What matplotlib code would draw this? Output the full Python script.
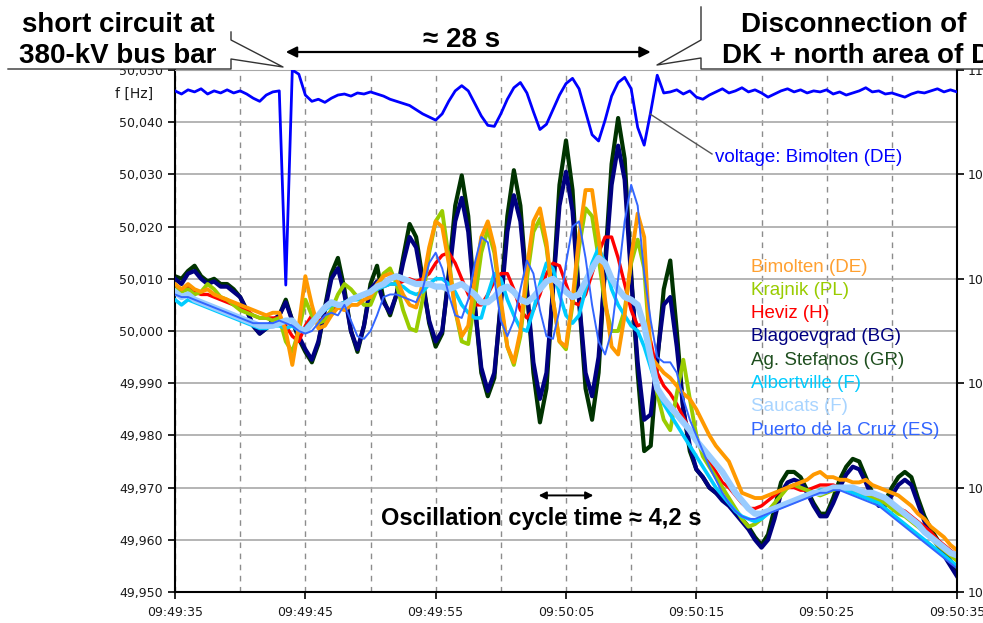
import matplotlib
matplotlib.use('Agg')
import matplotlib.pyplot as plt
import numpy as np
from matplotlib.patches import Rectangle
from matplotlib.ticker import FuncFormatter

# seconds after 09:49:35, one sample every 0.5 s
t = np.arange(0, 60.5, 0.5)

time_ticks = [0, 10, 20, 30, 40, 50, 60]
time_labels = ['09:49:35', '09:49:45', '09:49:55', '09:50:05',
               '09:50:15', '09:50:25', '09:50:35']

# frequency deviation from 50 Hz in mHz
blagoevgrad = [
    10, 9, 11, 11.5, 10, 9, 9.5, 8.5, 8.5, 7.5,
    6.5, 4, 1, -0.5, 0.5, 2, 3, 5.5, 2, -1,
    -3.5, -5.5, -2, 4, 10, 12, 7, 0, -3.5, 1,
    8, 9.5, 5.5, 3.5, 7, 13, 18, 16, 9, 2,
    -2, 0, 10, 21, 25.5, 19, 5, -7, -11.5, -8,
    5, 19, 26, 21, 8, -6, -13, -8, 8, 24,
    30.5, 23, 6, -8, -12.5, -5, 12, 28, 35.5, 29,
    10, -6, -17, -16, -5, 5, 6.5, -3, -15, -22,
    -26.5, -28, -30, -31, -32.5, -33.5, -35, -36.5, -38, -40,
    -41.5, -40, -36, -31, -29, -28.5, -29, -31, -33.5, -35.5,
    -35.5, -33, -30, -27.5, -26, -26.5, -29, -32, -33.5, -33.5,
    -31.5, -29.5, -28.5, -29.5, -33, -36.5, -39, -41, -43, -45,
    -47]
stefanos = [
    10.5, 10, 11.5, 12.5, 10.5, 9.5, 10, 9, 9, 8,
    6.5, 4, 1, -0.5, 0.5, 2, 3, 6, 2, -1.5,
    -4, -6, -2.5, 4.5, 11, 14, 8, 0, -4, 1,
    9, 12.5, 6, 3, 7, 14, 20.5, 18, 10, 1.5,
    -3, -0.5, 11, 24, 29.8, 22, 5, -8, -12.5, -9,
    6, 22, 30.8, 24, 8, -8, -17.5, -11, 8, 28,
    36.5, 27, 6, -11, -17, -8, 13, 32, 40.8, 33,
    11, -8, -23, -22, -6, 8, 13.5, 0, -15, -23,
    -26.5, -28, -30, -31, -32, -33, -34.5, -36, -37.5, -39.5,
    -41, -39, -34, -29, -27, -27, -28, -30.5, -33, -35,
    -35, -32, -28.5, -26, -24.5, -25, -28, -31, -33, -32.5,
    -30, -28, -27, -28, -32, -35.5, -38, -40, -42, -44,
    -46]
bimolten = [
    9, 8, 9, 8, 7.5, 8, 7, 6.5, 6, 5.5,
    5, 4.5, 4, 3.5, 3, 3.5, 3.5, 0, -6.5, 1,
    10.5, 5, 0.5, 1, 3, 4.5, 4, 5, 5, 6,
    6.5, 9, 10.5, 11, 10, 7, 5, 4.5, 9, 16,
    21, 20, 13, 4, -1, 1, 10, 18, 21, 16,
    6, -3, -6, 0, 12, 21, 23.5, 17, 6, -2,
    -3, 6, 18, 27, 27, 18, 6, -3, -4.5, 3,
    14, 22.5, 18, -5, -6.5, -8, -9, -10.5, -12, -13,
    -15, -17.5, -20, -22, -23.5, -25, -28, -31, -31.5, -32,
    -32, -31.5, -31, -30.5, -30, -29.5, -29, -28.5, -27.5, -27,
    -28, -28, -28.5, -28.5, -29, -29, -28.5, -29.5, -30, -30.5,
    -31, -31.5, -32.5, -33.5, -35, -36, -37.5, -38.5, -39.5, -41,
    -42]
krajnik = [
    8, 7.5, 8, 7, 7.5, 9, 8, 6.5, 6, 5,
    4, 3.5, 3, 2.5, 2.5, 2, 2.5, -2, -4, 0,
    6, 3, 1.5, 2, 4, 7, 9, 8, 6.5, 5,
    5, 8, 11, 12, 9, 4, 0.5, 0, 6, 15,
    21, 23, 14, 4, -2, -2.5, 6, 15, 19.5, 15,
    5, -3, -6.5, -1, 10, 19, 21.5, 16, 6, -2,
    -3.5, 5, 16, 23.5, 22, 14, 5, 0, 0, 4,
    13, 17.5, 12, -5, -12, -17, -19, -12, -5.5, -13,
    -20, -24, -26, -28, -30, -32, -34, -36, -37.5, -37,
    -36, -34.5, -33, -31.5, -30, -29.5, -30, -30.5, -31, -31.5,
    -31, -30.5, -30, -30, -30.5, -31, -31.5, -32, -32.5, -33,
    -34, -35, -35.5, -36.5, -37.5, -38.5, -39.5, -41, -42, -43,
    -44]
heviz = [
    8, 8, 8.5, 7.5, 7, 7, 6.5, 6, 5.5, 5,
    4.5, 4, 3, 2.5, 2.5, 2.5, 2.5, 1, -1, -2,
    1, 3, 2, 2.5, 4, 5, 5.5, 6, 6.5, 7,
    7.5, 8, 8.5, 9, 9, 9.5, 10, 9.5, 10, 11,
    13, 14.5, 15, 13, 10, 7, 5, 5, 7, 9.5,
    11, 11, 8, 4, 2.5, 4, 7, 11, 13, 12.5,
    9, 5.5, 5, 7, 11, 15, 18, 18, 14, 9,
    4, 1, 1.5, -2, -8, -10.5, -12, -14, -16.5, -19,
    -21, -23, -25, -27, -29, -30, -31.5, -33, -34, -34,
    -33.5, -32.5, -31.5, -30.5, -30, -30, -30.5, -30.5, -30, -29.5,
    -29.5, -29.5, -30, -30, -30.5, -30.5, -31, -31.5, -32, -32.5,
    -33, -34, -34.5, -35.5, -36.5, -37.5, -38.5, -40, -41, -42,
    -43]
albertville = [
    6, 5, 6, 5.5, 5, 4.5, 4, 3.5, 3, 2.5,
    2, 1.5, 1, 0.5, 0.5, 1, 1, 0.5, 1, 0,
    0.5, 2, 3, 4, 5, 5, 5.5, 6, 6, 7,
    7.5, 8, 8.5, 9, 9, 8.5, 7.5, 7, 7.5, 9,
    10, 10, 9, 7.5, 5, 3.5, 2.5, 2.5, 7, 11,
    10, 6, 3, 0.5, 0, 4, 9, 13, 12, 7,
    3, 1.5, 3, 8, 13, 16, 13, 8, 5, 3,
    1, 0, -3, -7, -11, -14, -16, -18, -20, -22,
    -24, -26, -28, -30, -31.5, -33, -34.5, -35.5, -36, -36.5,
    -36, -35, -34, -33.5, -33, -32.5, -32, -31.5, -31, -30.5,
    -30.5, -30, -30, -30.5, -31, -31.5, -32, -32.5, -33, -34,
    -35, -36, -37, -38, -39, -40, -41, -42, -43, -44,
    -45]
saucats = [
    7.5, 6.5, 7, 6, 5.5, 5, 4.5, 4, 3.5, 3,
    2.5, 2, 1.5, 1, 1, 1, 1.5, 2, 2, 0.5,
    0, 1.5, 3, 4.5, 5.5, 5, 5, 6, 6.5, 7,
    7.5, 8.5, 9, 10, 10.5, 10, 9.5, 9, 9, 9,
    8.5, 8.5, 8, 8.5, 9, 8, 7, 5.5, 5.5, 6.5,
    8, 8.5, 7.5, 6, 5.5, 6.5, 8, 9.5, 10, 9,
    7.5, 6.5, 7, 9.5, 12, 14, 13, 10, 8, 6.5,
    6, 5, 1, -5, -11, -13, -14.5, -16, -17.5, -19,
    -21, -22.5, -24, -25.5, -27, -29, -31, -32.5, -34, -35,
    -35, -34.5, -34, -33.5, -33, -32.5, -32, -31.5, -31, -31,
    -30.5, -30, -30, -30, -30, -30.5, -31, -31, -31.5, -32,
    -33, -34, -35, -36, -37, -38.5, -39.5, -40.5, -41.5, -42.5,
    -43]
puerto = [
    7, 6.5, 6.5, 6, 5.5, 5, 4.5, 4, 3.5, 3,
    2.5, 2, 1.5, 1.5, 1.5, 1.5, 2, 1.5, 1, 0,
    -0.5, 0, 1.5, 3, 3.5, 3, 5, 2, -1, -1.5,
    0, 3, 6.5, 7, 7, 6.5, 6, 5.5, 8, 13,
    15, 12, 7, 3, 2.5, 6, 13, 18, 17, 10,
    2, -1, 2, 8, 13.5, 11, 4, -1, -1.5, 4,
    13, 20, 21, 14, 5, -2, -4.5, 0, 10, 21,
    28, 24, 11, 2, -5, -6, -6, -8, -13, -17,
    -20, -23, -26, -28.5, -31, -33, -34.5, -35.5, -36, -36,
    -35.5, -35, -34.5, -34, -33.5, -33, -32.5, -32, -31.5, -31,
    -31, -30.5, -30.5, -31, -31.5, -32, -32.5, -33, -33.5, -34.5,
    -35.5, -36.5, -37.5, -38.5, -39.5, -40.5, -41.5, -42.5, -43.5, -44.5,
    -45.5]

# voltage at Bimolten, right-hand scale
voltage = [
    109.80, 109.77, 109.81, 109.79, 109.82, 109.77, 109.80, 109.78, 109.81, 109.78,
    109.80, 109.77, 109.73, 109.70, 109.76, 109.79, 109.80, 107.94, 110.00, 109.96,
    109.76, 109.70, 109.72, 109.69, 109.73, 109.76, 109.77, 109.75, 109.78, 109.77,
    109.79, 109.77, 109.75, 109.72, 109.70, 109.68, 109.66, 109.62, 109.58, 109.55,
    109.52, 109.58, 109.70, 109.80, 109.85, 109.80, 109.68, 109.56, 109.47, 109.46,
    109.58, 109.72, 109.83, 109.88, 109.78, 109.60, 109.43, 109.48, 109.62, 109.76,
    109.87, 109.92, 109.82, 109.60, 109.38, 109.32, 109.52, 109.75, 109.88, 109.93,
    109.82, 109.45, 109.28, 109.60, 109.95, 109.78, 109.79, 109.81, 109.77, 109.80,
    109.74, 109.72, 109.76, 109.79, 109.82, 109.78, 109.80, 109.83, 109.79, 109.81,
    109.78, 109.74, 109.77, 109.80, 109.82, 109.79, 109.81, 109.78, 109.80, 109.79,
    109.81, 109.77, 109.79, 109.76, 109.78, 109.80, 109.83, 109.79, 109.80, 109.77,
    109.78, 109.76, 109.74, 109.77, 109.79, 109.78, 109.80, 109.82, 109.79, 109.81,
    109.79]
voltage_ticks = [105, 106, 107, 108, 109, 110]

t_short = 8.5      # short circuit
t_disc = 36.5      # disconnection
cycle = 4.2        # oscillation period

# (label, data, colour, line width, zorder), back to front
series = [
    ('Ag. Stefanos (GR)', stefanos, '#003300', 3.0, 2),
    ('Blagoevgrad (BG)', blagoevgrad, '#000080', 3.0, 3),
    ('Heviz (H)', heviz, '#ff0000', 2.4, 4),
    ('Krajnik (PL)', krajnik, '#99cc00', 2.8, 5),
    ('Albertville (F)', albertville, '#00ccff', 2.6, 6),
    ('Bimolten (DE)', bimolten, '#ff9900', 2.8, 7),
    ('Saucats (F)', saucats, '#99ccff', 4.5, 8),
    ('Puerto de la Cruz (ES)', puerto, '#3366ff', 1.4, 9),
]
legend_order = ['Bimolten (DE)', 'Krajnik (PL)', 'Heviz (H)', 'Blagoevgrad (BG)',
                'Ag. Stefanos (GR)', 'Albertville (F)', 'Saucats (F)',
                'Puerto de la Cruz (ES)']
legend_colors = {'Ag. Stefanos (GR)': '#1f4f1f', 'Bimolten (DE)': '#ffa030',
                 'Saucats (F)': '#a8d4ff'}

W, H = 983, 623
plt.rcParams['font.family'] = ['DejaVu Sans']
sans = ['Liberation Sans', 'DejaVu Sans']

fig = plt.figure(figsize=(W / 100, H / 100), dpi=100)
ax = fig.add_axes([175 / W, 1 - 592 / H, 782 / W, 522 / H])

for name, dev, color, lw, z in series:
    ax.plot(t, 50 + np.array(dev) / 1000, color=color, lw=lw, zorder=z)

ax.set_xlim(0, 60)
ax.set_ylim(49.95, 50.05)
ax.set_yticks(np.round(np.arange(49.95, 50.0501, 0.01), 3))
ax.yaxis.set_major_formatter(FuncFormatter(lambda v, p: f'{v:.3f}'.replace('.', ',')))
ax.set_xticks(time_ticks)
ax.set_xticklabels(time_labels)
ax.set_xticks(range(5, 60, 10), minor=True)
ax.grid(axis='y', color='#a8a8a8', lw=1.2, ls='-', zorder=0)
ax.grid(axis='x', which='both', color='#8c8c8c', lw=1, ls=(0, (4, 4)), zorder=0)
ax.set_axisbelow(True)
ax.tick_params(axis='x', which='minor', length=0)
ax.tick_params(axis='y', which='major', direction='out', length=5, width=1.2,
               labelsize=9, labelcolor='#1a1a1a', pad=4)
ax.tick_params(axis='x', which='major', direction='out', length=5, width=1.2,
               labelsize=9, labelcolor='#1a1a1a', pad=5)
for s in ('left', 'bottom'):
    ax.spines[s].set_linewidth(1.5)
ax.spines['top'].set_color('#a8a8a8')
ax.spines['right'].set_visible(False)

ax2 = ax.twinx()
ax2.plot(t, voltage, color='#0000ff', lw=2.0, zorder=10)
ax2.set_ylim(105, 110)
ax2.set_yticks(voltage_ticks)
ax2.set_yticklabels([str(v) for v in voltage_ticks])
ax2.tick_params(axis='y', direction='out', length=5, width=1.2, labelsize=9,
                labelcolor='#1a1a1a', pad=3)
for s in ('left', 'bottom', 'top'):
    ax2.spines[s].set_visible(False)
ax2.spines['right'].set_linewidth(1.5)

# arrows spanning the event and one oscillation cycle
ax.annotate('', xy=(t_short, H - 52), xytext=(t_disc, H - 52),
            xycoords=('data', 'figure pixels'), textcoords=('data', 'figure pixels'),
            arrowprops=dict(arrowstyle='<|-|>', color='black', lw=1.6,
                            mutation_scale=16, shrinkA=0, shrinkB=0),
            annotation_clip=False)
y_cyc = 49.9685
ax.annotate('', xy=(30 - cycle / 2, y_cyc), xytext=(30 + cycle / 2, y_cyc),
            arrowprops=dict(arrowstyle='<|-|>', color='black', lw=1.4,
                            mutation_scale=11, shrinkA=0, shrinkB=0),
            zorder=12)

# overlay in pixel coordinates for callouts and labels
ov = fig.add_axes([0, 0, 1, 1], zorder=10)
ov.set_xlim(0, W)
ov.set_ylim(H, 0)
ov.axis('off')
ov.patch.set_alpha(0)

ov.add_patch(Rectangle((0, 0), 231, 69, facecolor='white', edgecolor='none'))
ov.add_patch(Rectangle((701, 0), 300, 69, facecolor='white', edgecolor='none'))
ov.plot([8, 231, 231, 283, 231, 231], [69, 69, 59, 67, 40, 32], color='#333333', lw=1)
ov.plot([701, 701, 657, 701, 701, 990], [7, 40, 65, 58, 69, 69], color='#333333', lw=1)

bold = dict(fontsize=20, fontweight='bold', family=sans, color='black')
ov.text(118, 32, 'short circuit at', ha='center', va='baseline', **bold)
ov.text(118, 63, '380-kV bus bar', ha='center', va='baseline', **bold)
ov.text(854, 32, 'Disconnection of', ha='center', va='baseline', **bold)
ov.text(722, 63, 'DK + north area of DE', ha='left', va='baseline', **bold)
ov.text(462, 47, f'≈ {t_disc - t_short:.0f} s', ha='center', va='baseline', **bold)
ov.text(541, 525, 'Oscillation cycle time ≈ ' + f'{cycle:.1f}'.replace('.', ',') + ' s',
        ha='center', va='baseline', fontsize=17, fontweight='bold', family=sans)

ov.text(153, 94, 'f [Hz]', ha='right', va='center', fontsize=10, color='#1a1a1a')

ov.plot([650, 712], [114, 154], color='#555555', lw=1)
ov.text(715, 158, 'voltage: Bimolten (DE)', ha='left', va='center', fontsize=13.5,
        family=sans, color='#0000ff')

colors = {name: color for name, _, color, _, _ in series}
for i, name in enumerate(legend_order):
    ov.text(751, 267 + 23.3 * i, name, ha='left', va='center', fontsize=13.5,
            family=sans, color=legend_colors.get(name, colors[name]))

fig.savefig('out.png', dpi=100)
